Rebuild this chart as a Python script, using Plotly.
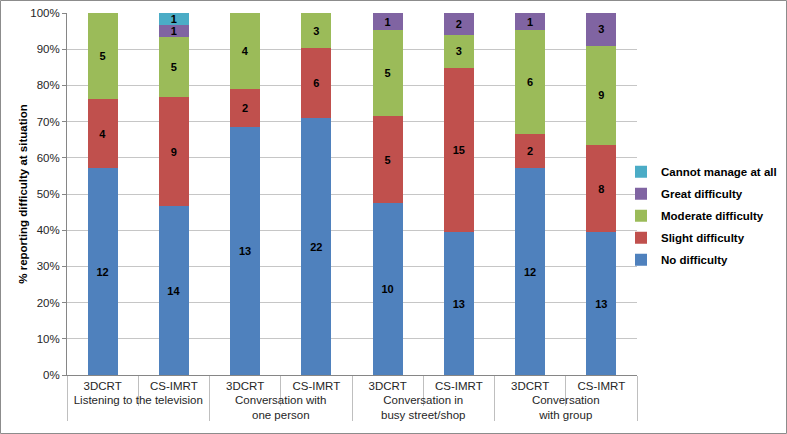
import plotly.graph_objects as go

situations = ["Listening to the television", "Conversation with<br>one person",
              "Conversation in<br>busy street/shop", "Conversation<br>with group"]
techniques = ["3DCRT", "CS-IMRT"]

series_names = ["No difficulty", "Slight difficulty", "Moderate difficulty",
                "Great difficulty", "Cannot manage at all"]
colors = ["#4F81BD", "#C0504D", "#9BBB59", "#8064A2", "#4BACC6"]

# counts per bar: TV 3DCRT, TV CS-IMRT, One 3DCRT, One CS-IMRT, Street 3DCRT, Street CS-IMRT, Group 3DCRT, Group CS-IMRT
no_difficulty = [12, 14, 13, 22, 10, 13, 12, 13]
slight_difficulty = [4, 9, 2, 6, 5, 15, 2, 8]
moderate_difficulty = [5, 5, 4, 3, 5, 3, 6, 9]
great_difficulty = [0, 1, 0, 0, 1, 2, 1, 3]
cannot_manage = [0, 1, 0, 0, 0, 0, 0, 0]

values = [no_difficulty, slight_difficulty, moderate_difficulty, great_difficulty, cannot_manage]

outer = [s for s in situations for _ in techniques]
inner = [t for _ in situations for t in techniques]

fig = go.Figure()
for i, (name, col, vals) in enumerate(zip(series_names, colors, values)):
    fig.add_trace(go.Bar(
        x=[outer, inner], y=vals, name=name, legendgroup=name, legendrank=100 - i,
        marker=dict(color=col, line=dict(width=0)),
        text=[str(v) if v else "" for v in vals],
        textposition="inside", insidetextanchor="middle", textangle=0,
        textfont=dict(family="Liberation Sans", size=11, color="black", weight="bold"),
    ))

W, H = 787, 434
L, R, T, B = 67, 150, 13, 59
pw, ph = W - L - R, H - T - B

fig.update_layout(
    width=W, height=H,
    margin=dict(l=L, r=R, t=T, b=B, autoexpand=False),
    barmode="stack", barnorm="percent", bargap=0.58,
    plot_bgcolor="white", paper_bgcolor="white",
    font=dict(family="Liberation Sans", size=11.5, color="#262626"),
    uniformtext=dict(minsize=11, mode="show"),
    showlegend=True,
    legend=dict(traceorder="grouped", x=(621 - L) / pw, xanchor="left", y=0.44, yanchor="middle",
                font=dict(size=11.5, color="black", weight="bold"), bgcolor="rgba(0,0,0,0)",
                itemwidth=30, tracegroupgap=3),
    yaxis=dict(range=[0, 100], dtick=10, ticksuffix="%", showgrid=True, gridcolor="#C6C6C6",
               gridwidth=1, showline=True, linecolor="#868686", ticks="outside", ticklen=4,
               tickcolor="#868686", zeroline=False, automargin=False,
               title=dict(text="% reporting difficulty at situation", standoff=0,
                          font=dict(size=11.5, color="black", weight="bold"))),
    xaxis=dict(type="multicategory", showline=True, linecolor="#868686", ticks="outside",
               ticklen=30, tickcolor="#BFBFBF", showdividers=True, dividercolor="#BFBFBF",
               dividerwidth=1, automargin=False, tickfont=dict(size=11.5, color="#262626")),
    shapes=[dict(type="rect", xref="paper", yref="paper",
                 x0=(0.5 - L) / pw, x1=(W - 0.5 - L) / pw,
                 y0=-(H - 0.5 - (H - B)) / ph, y1=1 + (T - 0.5) / ph,
                 line=dict(color="#8C8C8C", width=1), fillcolor="rgba(0,0,0,0)", layer="below")],
)

fig.write_html("out.html", config={"displayModeBar": False},
               post_script="document.body.style.margin='0';document.body.style.overflow='hidden';")
